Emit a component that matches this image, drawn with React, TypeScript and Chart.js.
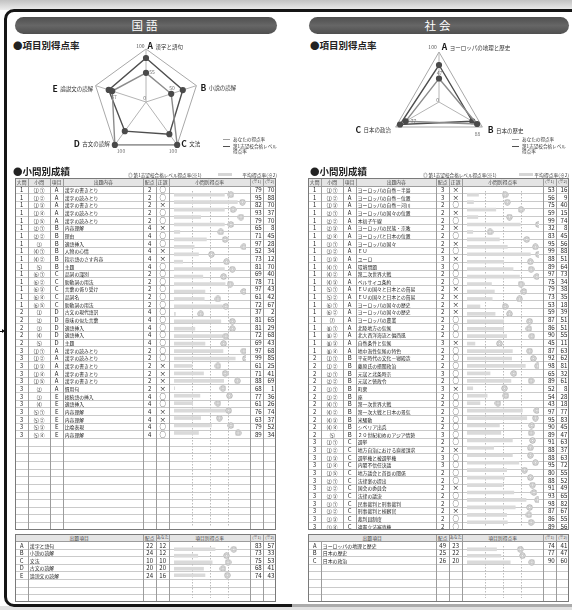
import React, { useEffect, useRef } from 'react';
import { Chart, registerables } from 'chart.js';

Chart.register(...registerables);

const JP = '"Noto Sans CJK JP", "Noto Sans", sans-serif';

// ---------- radar data ----------
const kokugoAxisLetters = ['A', 'B', 'C', 'D', 'E'];
const kokugoAxisNames = ['漢字と語句', '小説の読解', '文法', '古文の読解', '論説文の読解'];
const kokugoYourRate = [55, 50, 100, 100, 67];
const kokugoTargetRate = [83, 73, 75, 68, 74];

const shakaiAxisLetters = ['A', 'B', 'C'];
const shakaiAxisNames = ['ヨーロッパの地理と歴史', '日本の歴史', '日本の政治'];
const shakaiYourRate = [47, 88, 77];
const shakaiTargetRate = [74, 77, 90];

const radarMax = 100;
const rateGridValues = [25, 50, 75];

// ---------- 国語 question table ----------
const kokugoDaimon = [1, 1, 1, 1, 1, 1, 1, 1, 1, 1, 1, 1, 1, 1, 1, 1, 2, 2, 2, 2, 2, 3, 3, 3, 3, 3, 3, 3, 3, 3, 3, 3, 3];
const kokugoShomon = ['⑴ ①', '⑴ ②', '⑴ ③', '⑴ ④', '⑴ ⑤', '⑵ ①', '⑵ ②', '⑶', '⑷ ①', '⑷ ②', '⑸', '⑹ ①', '⑹ ②', '⑹ ③', '⑹ ④', '⑹ ⑤', '⑴', '⑵', '⑶', '⑷', '⑸', '⑴ ①', '⑴ ②', '⑴ ③', '⑴ ④', '⑴ ⑤', '⑵', '⑶', '⑷', '⑸ ①', '⑸ ②', '⑸ ③', '⑸ ④'];
const kokugoKomoku = ['A', 'A', 'A', 'A', 'A', 'B', 'B', 'B', 'B', 'B', 'B', 'C', 'C', 'C', 'C', 'C', 'D', 'D', 'D', 'D', 'D', 'A', 'A', 'A', 'A', 'A', 'A', 'E', 'E', 'E', 'E', 'E', 'E'];
const kokugoNaiyo = ['漢字の書きとり', '漢字の読みとり', '漢字の書きとり', '漢字の読みとり', '漢字の読みとり', '内容理解', '理由', '適語挿入', '人物の心情', '指示語のさす内容', '主題', '品詞の識別', '助動詞の用法', '言葉の係り受け', '品詞名', '助動詞の用法', '古文の現代語訳', '意味の似た言葉', '適語挿入', '適語挿入', '主題', '漢字の読みとり', '漢字の読みとり', '漢字の書きとり', '漢字の書きとり', '漢字の書きとり', '慣用句', '接続語の挿入', '適語挿入', '内容理解', '内容理解', '比喩表現', '内容理解'];
const kokugoHaiten = [2, 2, 2, 2, 2, 4, 4, 4, 4, 4, 4, 2, 2, 2, 2, 2, 4, 4, 4, 4, 4, 2, 2, 2, 2, 2, 2, 4, 4, 4, 4, 4, 4];
const kokugoSeigo = ['○', '○', '×', '○', '○', '×', '○', '○', '×', '×', '○', '○', '○', '○', '○', '○', '○', '○', '○', '○', '○', '○', '○', '×', '×', '×', '×', '○', '○', '×', '×', '○', '○'];
const kokugoR1 = [79, 95, 82, 93, 79, 65, 71, 97, 52, 73, 81, 69, 78, 97, 61, 72, 37, 81, 81, 72, 69, 97, 99, 61, 71, 88, 68, 77, 61, 76, 63, 79, 89];
const kokugoR2 = [70, 88, 70, 37, 70, 8, 45, 28, 34, 12, 70, 40, 71, 43, 42, 67, 2, 65, 29, 68, 43, 68, 85, 25, 41, 69, 1, 36, 26, 74, 37, 52, 34];

// ---------- 社会 question table ----------
const shakaiDaimon = [1, 1, 1, 1, 1, 1, 1, 1, 1, 1, 1, 1, 1, 1, 1, 1, 1, 1, 1, 1, 1, 1, 2, 2, 2, 2, 2, 2, 2, 2, 2, 2, 2, 3, 3, 3, 3, 3, 3, 3, 3, 3, 3, 3, 3];
const shakaiShomon = ['⑴ ①', '⑴ ②', '⑴ ③', '⑵ ①', '⑵ ②', '⑵ ③', '⑵ ④', '⑶ ①', '⑶ ②', '⑶ ③', '⑷ ①', '⑷ ②', '⑷ ③', '⑸ ①', '⑸ ②', '⑹ ①', '⑹ ②', '⑺', '⑻ ①', '⑻ ②', '⑻ ③', '⑻ ④', '⑴ ①', '⑴ ②', '⑵ ①', '⑵ ②', '⑶ ①', '⑶ ②', '⑷ ①', '⑷ ②', '⑷ ③', '⑷ ④', '⑸', '⑴ ①', '⑴ ②', '⑴ ③', '⑴ ④', '⑴ ⑤', '⑵ ①', '⑵ ②', '⑵ ③', '⑶ ①', '⑶ ②', '⑶ ③', '⑶ ④'];
const shakaiKomoku = ['A', 'A', 'A', 'A', 'A', 'A', 'A', 'A', 'A', 'A', 'A', 'A', 'A', 'A', 'A', 'A', 'A', 'A', 'A', 'A', 'A', 'A', 'B', 'B', 'B', 'B', 'B', 'B', 'B', 'B', 'B', 'B', 'B', 'C', 'C', 'C', 'C', 'C', 'C', 'C', 'C', 'C', 'C', 'C', 'C'];
const shakaiNaiyo = ['ヨーロッパの自然－半島', 'ヨーロッパの自然－位置', 'ヨーロッパの自然－河川', 'ヨーロッパの国々の位置', '本初子午線', 'ヨーロッパの民族・宗教', 'ヨーロッパと日本の位置', 'ヨーロッパの国々', 'ＥＵ', 'ユーロ', '環境問題', '第二次世界大戦', 'ベルサイユ条約', 'ＥＵの国々と日本との貿易', 'ＥＵの国々と日本との貿易', 'ヨーロッパの国々の歴史', 'ヨーロッパの国々の歴史', 'ヨーロッパの農業', '北陸地方の気候', '北大西洋海流と偏西風', '自然条件と気候', '地中海性気候の特色', '平安時代の文化－寝殿造', '藤原氏の摂関政治', '元寇と北条時宗', '元寇と徳政令', '町衆', '座', '第一次世界大戦', '第一次大戦と日本の景気', '米騒動', 'シベリア出兵', '２０世紀初めのアジア情勢', '選挙', '地方自治における直接請求', '選挙権と被選挙権', '内閣不信任決議', '地方議会と首長の関係', '法律案の提出', '国会の委員会', '法律の議決', '民事裁判と刑事裁判', '刑事裁判と検察官', '裁判員制度', '違憲立法審査権'];
const shakaiHaiten = [3, 3, 2, 2, 2, 2, 2, 2, 2, 3, 3, 2, 2, 2, 2, 2, 2, 2, 2, 2, 3, 2, 2, 2, 3, 2, 3, 2, 2, 2, 2, 2, 3, 2, 2, 3, 3, 2, 2, 2, 2, 2, 2, 2, 2];
const shakaiSeigo = ['×', '×', '○', '×', '○', '×', '○', '×', '○', '×', '○', '○', '○', '×', '×', '×', '×', '○', '○', '○', '×', '○', '○', '○', '○', '○', '×', '○', '○', '○', '○', '○', '○', '○', '×', '○', '○', '○', '○', '×', '○', '○', '×', '○', '○'];
const shakaiR1 = [53, 56, 75, 59, 99, 32, 83, 95, 99, 88, 89, 97, 75, 79, 73, 53, 59, 87, 86, 90, 45, 87, 92, 98, 65, 89, 52, 54, 43, 97, 95, 90, 89, 91, 88, 88, 95, 80, 88, 91, 93, 98, 87, 86, 89];
const shakaiR2 = [16, 9, 40, 15, 74, 8, 45, 56, 88, 51, 64, 73, 34, 38, 35, 18, 39, 51, 51, 55, 11, 63, 62, 81, 32, 61, 8, 28, 18, 77, 83, 45, 47, 63, 37, 63, 72, 55, 52, 49, 65, 82, 67, 55, 56];

// ---------- summary tables ----------
const kokugoSumLetters = ['A', 'B', 'C', 'D', 'E'];
const kokugoSumNames = ['漢字と語句', '小説の読解', '文法', '古文の読解', '論説文の読解'];
const kokugoSumHaiten = [22, 24, 10, 20, 24];
const kokugoSumAnata = [12, 12, 10, 20, 16];
const kokugoSumR1 = [83, 73, 75, 68, 74];
const kokugoSumR2 = [57, 33, 53, 41, 43];

const shakaiSumLetters = ['A', 'B', 'C'];
const shakaiSumNames = ['ヨーロッパの地理と歴史', '日本の歴史', '日本の政治'];
const shakaiSumHaiten = [49, 25, 26];
const shakaiSumAnata = [23, 22, 20];
const shakaiSumR1 = [74, 77, 90];
const shakaiSumR2 = [41, 47, 60];

// ---------- helpers ----------
let ringCache: HTMLCanvasElement | null = null;
function ringMarker(): HTMLCanvasElement {
  if (ringCache) return ringCache;
  const c = document.createElement('canvas');
  c.width = 7;
  c.height = 7;
  const g = c.getContext('2d')!;
  g.fillStyle = '#ffffff';
  g.beginPath();
  g.arc(3.5, 3.5, 3.2, 0, Math.PI * 2);
  g.fill();
  g.strokeStyle = '#9a9a9a';
  g.lineWidth = 0.9;
  g.beginPath();
  g.arc(3.5, 3.5, 2.7, 0, Math.PI * 2);
  g.stroke();
  g.lineWidth = 0.7;
  g.beginPath();
  g.arc(3.5, 3.5, 1.2, 0, Math.PI * 2);
  g.stroke();
  ringCache = c;
  return c;
}

const dashPlugin = {
  id: 'rateDash',
  beforeDatasetsDraw(chart: any) {
    const { ctx, chartArea, scales } = chart;
    ctx.save();
    ctx.strokeStyle = '#bcbcbc';
    ctx.lineWidth = 1;
    ctx.setLineDash([1.5, 1.5]);
    rateGridValues.forEach((v) => {
      const x = Math.round(scales.x.getPixelForValue(v)) + 0.5;
      ctx.beginPath();
      ctx.moveTo(x, chartArea.top);
      ctx.lineTo(x, chartArea.bottom);
      ctx.stroke();
    });
    ctx.restore();
  },
};

function DotChart(props: { r1: number[]; r2: number[]; n: number; left: number; top: number; width: number; height: number }) {
  const ref = useRef<HTMLCanvasElement>(null);
  useEffect(() => {
    const labels = Array.from({ length: props.n }, (_, i) => String(i + 1));
    const pad = (arr: number[]) => labels.map((_, i) => (i < arr.length ? arr[i] : null));
    const chart = new Chart(ref.current!, {
      type: 'bar',
      data: {
        labels,
        datasets: [
          {
            type: 'line',
            indexAxis: 'y',
            data: pad(props.r1),
            showLine: false,
            pointStyle: ringMarker(),
            pointRadius: 3,
            pointHoverRadius: 3,
            order: 0,
          } as any,
          {
            type: 'bar',
            data: pad(props.r2),
            backgroundColor: '#dadada',
            barThickness: 3,
            order: 1,
          } as any,
        ],
      },
      options: {
        indexAxis: 'y',
        responsive: false,
        maintainAspectRatio: false,
        animation: false,
        events: [],
        layout: { padding: 0 },
        plugins: { legend: { display: false }, tooltip: { enabled: false } },
        scales: {
          x: { display: false, min: 0, max: 100 },
          y: { display: false },
        },
      },
      plugins: [dashPlugin],
    });
    return () => chart.destroy();
  }, []);
  return (
    <canvas
      ref={ref}
      width={props.width}
      height={props.height}
      style={{ position: 'absolute', left: props.left, top: props.top, width: props.width, height: props.height }}
    />
  );
}

type Spec = { dx: number; dy: number; align: 'left' | 'right' | 'center' };

interface RadarProps {
  letters: string[];
  names: string[];
  your: number[];
  target: number[];
  left: number;
  top: number;
  width: number;
  height: number;
  pad: { left: number; right: number; top: number; bottom: number };
  axisSpec: Spec[];
  valueSpec: Spec[];
  maxSpec: Spec;
  zeroSpec: Spec;
}

function Radar(p: RadarProps) {
  const ref = useRef<HTMLCanvasElement>(null);
  useEffect(() => {
    const labelPlugin = {
      id: 'radarLabels',
      afterDraw(chart: any) {
        const s = chart.scales.r;
        const ctx = chart.ctx as CanvasRenderingContext2D;
        ctx.save();
        ctx.textBaseline = 'middle';
        const put = (txt: string, x: number, y: number, sp: Spec, font: string, color: string) => {
          ctx.font = font;
          ctx.fillStyle = color;
          ctx.textAlign = sp.align;
          ctx.fillText(txt, x + sp.dx, y + sp.dy);
        };
        p.letters.forEach((L, i) => {
          const v = s.getPointPositionForValue(i, radarMax);
          const sp = p.axisSpec[i];
          const fL = `bold 8.5px ${JP}`;
          const fN = `5.5px ${JP}`;
          ctx.font = fL;
          const lw = ctx.measureText(L).width;
          ctx.font = fN;
          const nw = ctx.measureText(p.names[i]).width;
          const gap = 2.5;
          const x0 = sp.align === 'left' ? v.x + sp.dx : v.x + sp.dx - (lw + gap + nw);
          const y = v.y + sp.dy;
          ctx.textAlign = 'left';
          ctx.font = fL;
          ctx.fillStyle = '#1a1a1a';
          ctx.fillText(L, x0, y);
          ctx.font = fN;
          ctx.fillStyle = '#333';
          ctx.fillText(p.names[i], x0 + lw + gap, y + 0.5);
          const pv = s.getPointPositionForValue(i, p.your[i]);
          put(String(p.your[i]), pv.x, pv.y, p.valueSpec[i], `5px ${JP}`, '#707070');
        });
        const top = s.getPointPositionForValue(0, radarMax);
        put(String(radarMax), top.x, top.y, p.maxSpec, `5px ${JP}`, '#555');
        put('0', s.xCenter, s.yCenter, p.zeroSpec, `5px ${JP}`, '#707070');
        ctx.restore();
      },
    };
    const chart = new Chart(ref.current!, {
      type: 'radar',
      data: {
        labels: p.letters,
        datasets: [
          {
            label: 'あなたの得点率',
            data: p.your,
            borderColor: '#8c8c8c',
            borderWidth: 1.4,
            backgroundColor: 'rgba(0,0,0,0)',
            pointBackgroundColor: '#4a4a4a',
            pointBorderColor: '#4a4a4a',
            pointRadius: 2.4,
            fill: false,
          },
          {
            label: '第1志望校合格レベル得点率',
            data: p.target,
            borderColor: '#4e4e4e',
            borderWidth: 1.4,
            backgroundColor: 'rgba(0,0,0,0)',
            pointBackgroundColor: '#4a4a4a',
            pointBorderColor: '#4a4a4a',
            pointRadius: 2.4,
            fill: false,
          },
        ],
      },
      options: {
        responsive: false,
        maintainAspectRatio: false,
        animation: false,
        events: [],
        layout: { padding: p.pad },
        plugins: { legend: { display: false }, tooltip: { enabled: false } },
        elements: { line: { tension: 0 } },
        scales: {
          r: {
            min: 0,
            max: radarMax,
            ticks: { display: false, stepSize: radarMax },
            grid: { color: '#a8a8a8', lineWidth: 1 },
            angleLines: { color: '#b4b4b4', lineWidth: 1 },
            pointLabels: { display: false },
          },
        },
      },
      plugins: [labelPlugin],
    });
    return () => chart.destroy();
  }, []);
  return (
    <canvas
      ref={ref}
      width={p.width}
      height={p.height}
      style={{ position: 'absolute', left: p.left, top: p.top, width: p.width, height: p.height }}
    />
  );
}

interface TableProps {
  x: number;
  y: number;
  widths: number[];
  headerH: number;
  rowH: number;
  headerCells: { text: string; span: number; size?: number }[];
  rows: (string | number)[][];
  aligns: ('left' | 'center' | 'right')[];
  sizes: number[];
  nRows: number;
  chartCol: number;
  r1: number[];
  r2: number[];
}

function Table(p: TableProps) {
  const total = p.widths.reduce((a, b) => a + b, 0);
  const colLeft = p.widths.map((_, i) => p.widths.slice(0, i).reduce((a, b) => a + b, 0));
  const bodyH = p.nRows * p.rowH;
  const H = p.headerH + bodyH;
  const vCol = '#9c9c9c';
  const hCol = '#cacaca';
  const els: React.ReactNode[] = [];
  els.push(<div key="hb" style={{ position: 'absolute', left: 0, top: 0, width: total, height: p.headerH, background: '#e4e4e4' }} />);
  let ci = 0;
  p.headerCells.forEach((h, k) => {
    const l = colLeft[ci];
    const w = p.widths.slice(ci, ci + h.span).reduce((a, b) => a + b, 0);
    els.push(
      <div
        key={'h' + k}
        style={{ position: 'absolute', left: l, top: 0, width: w, height: p.headerH, lineHeight: p.headerH + 'px', textAlign: 'center', fontSize: h.size ?? 4.8, color: '#444', whiteSpace: 'nowrap', overflow: 'hidden' }}
      >
        {h.text}
      </div>
    );
    if (ci > 0) els.push(<div key={'hv' + k} style={{ position: 'absolute', left: l, top: 0, width: 1, height: p.headerH, background: vCol }} />);
    ci += h.span;
  });
  for (let i = 1; i < p.nRows; i++) {
    els.push(<div key={'hl' + i} style={{ position: 'absolute', left: 0, top: p.headerH + i * p.rowH, width: total, height: 1, background: hCol }} />);
  }
  els.push(<div key="hl0" style={{ position: 'absolute', left: 0, top: p.headerH, width: total, height: 1, background: vCol }} />);
  for (let j = 1; j < p.widths.length; j++) {
    els.push(<div key={'v' + j} style={{ position: 'absolute', left: colLeft[j], top: p.headerH, width: 1, height: bodyH, background: vCol }} />);
  }
  p.rows.forEach((row, i) => {
    row.forEach((cell, j) => {
      if (j === p.chartCol) return;
      els.push(
        <div
          key={'c' + i + '_' + j}
          style={{
            position: 'absolute',
            left: colLeft[j],
            top: p.headerH + i * p.rowH + 0.5,
            width: p.widths[j],
            height: p.rowH,
            lineHeight: p.rowH + 'px',
            textAlign: p.aligns[j],
            fontSize: p.sizes[j],
            boxSizing: 'border-box',
            padding: '0 1.5px',
            whiteSpace: 'nowrap',
            overflow: 'hidden',
            color: '#1e1e1e',
          }}
        >
          {cell}
        </div>
      );
    });
  });
  return (
    <div style={{ position: 'absolute', left: p.x, top: p.y, width: total, height: H }}>
      {els}
      <DotChart
        r1={p.r1}
        r2={p.r2}
        n={p.nRows}
        left={colLeft[p.chartCol] + 1}
        top={p.headerH + 1}
        width={Math.round(p.widths[p.chartCol]) - 1}
        height={Math.round(bodyH) - 1}
      />
      <div style={{ position: 'absolute', left: 0, top: 0, width: total, height: H, boxSizing: 'border-box', border: '1px solid #7a7a7a' }} />
    </div>
  );
}

const MAIN_W = [13.3, 21.7, 13.3, 80, 12.7, 13.3, 80.7, 13.3, 12.7];
const MAIN_HEAD = [
  { text: '大問', span: 1 },
  { text: '小問', span: 1 },
  { text: '項目', span: 1 },
  { text: '出題内容', span: 1 },
  { text: '配点', span: 1 },
  { text: '正誤', span: 1 },
  { text: '小問別得点率', span: 1 },
  { text: '(※1)', span: 1, size: 4 },
  { text: '(※2)', span: 1, size: 4 },
];
const MAIN_ALIGN: ('left' | 'center' | 'right')[] = ['center', 'center', 'center', 'left', 'center', 'center', 'left', 'right', 'right'];
const MAIN_SIZE = [5.8, 4.8, 6, 4.8, 6, 6.5, 5, 6.2, 6.2];

const SUM_W = [13.3, 115, 12.7, 13.3, 80.7, 13.3, 12.7];
const SUM_HEAD = [
  { text: '出題項目', span: 2 },
  { text: '配点', span: 1 },
  { text: 'あなた', span: 1, size: 4 },
  { text: '項目別得点率', span: 1 },
  { text: '(※1)', span: 1, size: 4 },
  { text: '(※2)', span: 1, size: 4 },
];
const SUM_ALIGN: ('left' | 'center' | 'right')[] = ['center', 'left', 'center', 'center', 'left', 'right', 'right'];
const SUM_SIZE = [5.8, 4.9, 6, 6, 5, 6.2, 6.2];

function mainRows(d: number[], s: string[], k: string[], n: string[], h: number[], g: string[], r1: number[], r2: number[]) {
  return d.map((_, i) => [d[i], s[i], k[i], n[i], h[i], g[i], '', r1[i], r2[i]]);
}
function sumRows(l: string[], n: string[], h: number[], a: number[], r1: number[], r2: number[]) {
  return l.map((_, i) => [l[i], n[i], h[i], a[i], '', r1[i], r2[i]]);
}

function LegendBox(props: { x: number; y: number }) {
  const t = (txt: string, top: number) => (
    <div style={{ position: 'absolute', left: 10, top: top - 3, height: 6, lineHeight: '6px', fontSize: 4.6, whiteSpace: 'nowrap', color: '#333' }}>{txt}</div>
  );
  return (
    <div style={{ position: 'absolute', left: props.x, top: props.y, width: 60, height: 16 }}>
      <div style={{ position: 'absolute', left: 0, top: 0, width: 7, height: 1, background: '#a0a0a0' }} />
      {t('あなたの得点率', 0)}
      <div style={{ position: 'absolute', left: 0, top: 7, width: 7, height: 1, background: '#505050' }} />
      {t('第1志望校合格レベル', 7)}
      {t('得点率', 11.7)}
    </div>
  );
}

function TableLegend(props: { x: number; y: number; barX: number; rightX: number }) {
  return (
    <>
      <div style={{ position: 'absolute', left: props.x, top: props.y - 3, height: 6, lineHeight: '6px', fontSize: 4.6, whiteSpace: 'nowrap', color: '#333' }}>
        ◎ 第1志望校合格レベル得点率(※1)
      </div>
      <div style={{ position: 'absolute', left: props.barX, top: props.y - 1.5, width: 14, height: 3, background: '#d6d6d6' }} />
      <div style={{ position: 'absolute', left: props.rightX - 60, width: 60, top: props.y - 3, height: 6, lineHeight: '6px', fontSize: 4.8, whiteSpace: 'nowrap', color: '#333', textAlign: 'right' }}>
        平均得点率(※2)
      </div>
    </>
  );
}

function Heading(props: { x: number; y: number; text: string }) {
  return (
    <div style={{ position: 'absolute', left: props.x, top: props.y - 7, height: 14, lineHeight: '14px', fontSize: 9.5, fontWeight: 700, whiteSpace: 'nowrap', color: '#222' }}>
      {props.text}
    </div>
  );
}

function TitleBar(props: { x: number; w: number; text: string }) {
  return (
    <div
      style={{
        position: 'absolute',
        left: props.x,
        top: 17,
        width: props.w,
        height: 16.5,
        borderRadius: 9,
        background: 'linear-gradient(#4f4f4f, #666 50%, #4f4f4f)',
        color: '#fff',
        fontSize: 11.5,
        lineHeight: '16.5px',
        textAlign: 'center',
        letterSpacing: 3,
        fontFamily: '"Noto Sans CJK JP", serif',
      }}
    >
      {props.text}
    </div>
  );
}

export default function App() {
  const TABLE_TOP = 178;
  const HEAD_H = 7.5;
  const ROW_H = 7.65;
  const N_MAIN = 45;
  const SUM_TOP = 533.5;
  const SUM_ROW_H = 7.6;
  const N_SUM = 8;

  return (
    <div style={{ position: 'absolute', left: 0, top: 0, width: 572, height: 610, overflow: 'hidden', background: '#fff', fontFamily: JP, color: '#222' }}>
      <div style={{ position: 'absolute', left: 0, top: 0, width: 572, height: 10, background: 'linear-gradient(#c2c2c2, #ededed)' }} />
      <div style={{ position: 'absolute', left: 0, top: 606, width: 572, height: 4, background: '#e2e2e2' }} />
      <div style={{ position: 'absolute', left: 4, top: 9, width: 640, height: 598, boxSizing: 'border-box', border: '3px solid #151515', borderRadius: 10 }} />
      <div style={{ position: 'absolute', left: 292, top: 604, width: 290, height: 3, background: '#ababab' }} />
      <div style={{ position: 'absolute', left: 0, top: 330.5, width: 3, height: 1.2, background: '#111' }} />
      <div style={{ position: 'absolute', left: 2, top: 328.5, width: 0, height: 0, borderTop: '2.6px solid transparent', borderBottom: '2.6px solid transparent', borderLeft: '3px solid #111' }} />

      {/* ---------------- 国語 ---------------- */}
      <TitleBar x={15} w={262} text="国語" />
      <Heading x={13} y={45} text="●項目別得点率" />
      <Radar
        letters={kokugoAxisLetters}
        names={kokugoAxisNames}
        your={kokugoYourRate}
        target={kokugoTargetRate}
        left={10}
        top={38}
        width={272}
        height={128}
        pad={{ left: 83, right: 83, top: 11, bottom: 11 }}
        axisSpec={[
          { dx: 1.5, dy: -3, align: 'left' },
          { dx: 4, dy: 2, align: 'left' },
          { dx: 4, dy: -1.5, align: 'left' },
          { dx: -5, dy: -1.5, align: 'right' },
          { dx: -2.3, dy: 2.7, align: 'right' },
        ]}
        valueSpec={[
          { dx: 3.3, dy: -0.5, align: 'left' },
          { dx: -2, dy: -5.5, align: 'left' },
          { dx: 0, dy: 6, align: 'right' },
          { dx: 2, dy: 6, align: 'left' },
          { dx: -1, dy: 5.7, align: 'left' },
        ]}
        maxSpec={{ dx: -1.5, dy: -3, align: 'right' }}
        zeroSpec={{ dx: 0, dy: -4, align: 'right' }}
      />
      <LegendBox x={223} y={139} />

      <Heading x={13} y={170.5} text="●小問別成績" />
      <TableLegend x={128} y={174.5} barX={218} rightX={277} />
      <Table
        x={15}
        y={TABLE_TOP}
        widths={MAIN_W}
        headerH={HEAD_H}
        rowH={ROW_H}
        headerCells={MAIN_HEAD}
        rows={mainRows(kokugoDaimon, kokugoShomon, kokugoKomoku, kokugoNaiyo, kokugoHaiten, kokugoSeigo, kokugoR1, kokugoR2)}
        aligns={MAIN_ALIGN}
        sizes={MAIN_SIZE}
        nRows={N_MAIN}
        chartCol={6}
        r1={kokugoR1}
        r2={kokugoR2}
      />
      <Table
        x={15}
        y={SUM_TOP}
        widths={SUM_W}
        headerH={HEAD_H}
        rowH={SUM_ROW_H}
        headerCells={SUM_HEAD}
        rows={sumRows(kokugoSumLetters, kokugoSumNames, kokugoSumHaiten, kokugoSumAnata, kokugoSumR1, kokugoSumR2)}
        aligns={SUM_ALIGN}
        sizes={SUM_SIZE}
        nRows={N_SUM}
        chartCol={4}
        r1={kokugoSumR1}
        r2={kokugoSumR2}
      />

      {/* ---------------- 社会 ---------------- */}
      <TitleBar x={309} w={260} text="社会" />
      <Heading x={310} y={45} text="●項目別得点率" />
      <Radar
        letters={shakaiAxisLetters}
        names={shakaiAxisNames}
        your={shakaiYourRate}
        target={shakaiTargetRate}
        left={300}
        top={38}
        width={272}
        height={128}
        pad={{ left: 89, right: 83, top: 14, bottom: 14 }}
        axisSpec={[
          { dx: 2.7, dy: -5, align: 'left' },
          { dx: 5.4, dy: 3, align: 'left' },
          { dx: -4.7, dy: 2.5, align: 'right' },
        ]}
        valueSpec={[
          { dx: 0.5, dy: -5.5, align: 'center' },
          { dx: 0.5, dy: 10, align: 'center' },
          { dx: 5, dy: 0, align: 'left' },
        ]}
        maxSpec={{ dx: -2.3, dy: -5, align: 'right' }}
        zeroSpec={{ dx: 0, dy: -2, align: 'right' }}
      />
      <LegendBox x={512} y={139} />

      <Heading x={310} y={170.5} text="●小問別成績" />
      <TableLegend x={423} y={174.5} barX={519} rightX={569} />
      <Table
        x={308}
        y={TABLE_TOP}
        widths={MAIN_W}
        headerH={HEAD_H}
        rowH={ROW_H}
        headerCells={MAIN_HEAD}
        rows={mainRows(shakaiDaimon, shakaiShomon, shakaiKomoku, shakaiNaiyo, shakaiHaiten, shakaiSeigo, shakaiR1, shakaiR2)}
        aligns={MAIN_ALIGN}
        sizes={MAIN_SIZE}
        nRows={N_MAIN}
        chartCol={6}
        r1={shakaiR1}
        r2={shakaiR2}
      />
      <Table
        x={308}
        y={SUM_TOP}
        widths={SUM_W}
        headerH={HEAD_H}
        rowH={SUM_ROW_H}
        headerCells={SUM_HEAD}
        rows={sumRows(shakaiSumLetters, shakaiSumNames, shakaiSumHaiten, shakaiSumAnata, shakaiSumR1, shakaiSumR2)}
        aligns={SUM_ALIGN}
        sizes={SUM_SIZE}
        nRows={N_SUM}
        chartCol={4}
        r1={shakaiSumR1}
        r2={shakaiSumR2}
      />
    </div>
  );
}
